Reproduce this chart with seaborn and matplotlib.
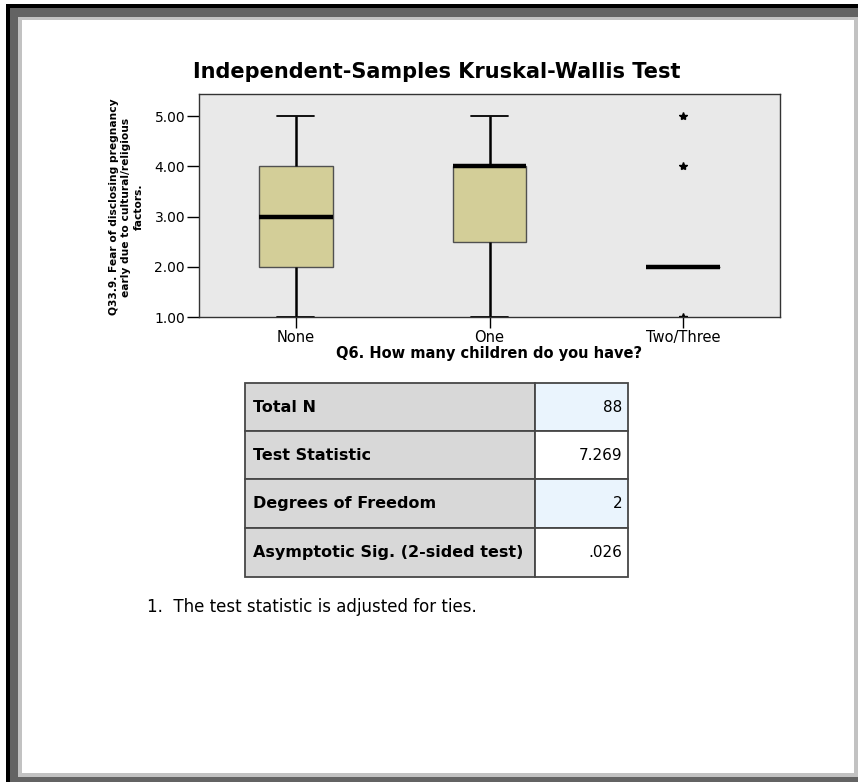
import numpy as np
import pandas as pd
import matplotlib
matplotlib.use("Agg")
import matplotlib.pyplot as plt
from matplotlib.patches import Rectangle
import seaborn as sns

# --- Dados ---
groups = ['None', 'One', 'Two/Three']
levels = [1, 2, 3, 4, 5]
# respostas 1..5 por grupo (quartis: None 2/3/4, One 2.5/4/4, Two/Three 2/2/2)
counts_none = [5, 10, 10, 11, 6]
counts_one = [4, 5, 4, 16, 6]
counts_two = [1, 8, 0, 1, 1]
y_ticks = [1.0, 2.0, 3.0, 4.0, 5.0]

table_labels = ['Total N', 'Test Statistic', 'Degrees of Freedom',
                'Asymptotic Sig. (2-sided test)']
table_values = ['88', '7.269', '2', '.026']

title = 'Independent-Samples Kruskal-Wallis Test'
x_label = 'Q6. How many children do you have?'
y_label = 'Q33.9. Fear of disclosing pregnancy\nearly due to cultural/religious\nfactors.'
footnote = '1.  The test statistic is adjusted for ties.'

# --- Cores ---
BOX_COLOR = '#d3ce98'
AX_BG = '#e9e9e9'
CELL_GRAY = '#d8d8d8'
CELL_BLUE = '#eaf4fd'
BORDER = '#474747'

rows = []
for g, cnt in zip(groups, [counts_none, counts_one, counts_two]):
    for lv, c in zip(levels, cnt):
        rows += [(g, lv)] * c
df = pd.DataFrame(rows, columns=['group', 'value'])

sns.set_theme(style='white')
plt.rcParams['font.family'] = ['DejaVu Sans']
plt.rcParams['text.color'] = 'black'
plt.rcParams['axes.labelcolor'] = 'black'
plt.rcParams['xtick.color'] = 'black'
plt.rcParams['ytick.color'] = 'black'

W, H = 858, 782
fig = plt.figure(figsize=(W / 100, H / 100), dpi=100)
fig.patch.set_facecolor('white')


def fx(x):
    return x / W


def fy(y):
    return 1 - y / H


def band(x0, y0, x1, y1, color):
    fig.patches.append(Rectangle((fx(x0), fy(y1)), fx(x1 - x0), (y1 - y0) / H,
                                 transform=fig.transFigure, facecolor=color,
                                 edgecolor='none', zorder=-10))


# moldura da janela
band(6, 4, 858, 782, 'black')
band(10, 8, 858, 782, '#636363')
band(18, 17, 858, 777, '#c2c2c2')
band(22, 20, 854, 773, 'white')

# --- Boxplot ---
ax = fig.add_axes([fx(199), fy(317), fx(780 - 199), (317 - 94) / H])
sns.boxplot(data=df, x='group', y='value', order=groups, ax=ax,
            width=0.38, color=BOX_COLOR, saturation=1, linecolor='black',
            linewidth=1.8, whis=1.5,
            boxprops=dict(edgecolor='#505050', linewidth=1.0),
            medianprops=dict(color='black', linewidth=3.2),
            capprops=dict(color='black', linewidth=1.3),
            flierprops=dict(marker='*', markersize=6, markerfacecolor='black',
                            markeredgecolor='black'))
ax.set_facecolor(AX_BG)
ax.set_xlim(-0.5, 2.5)
ax.set_ylim(1.0, 5.44)
ax.set_yticks(y_ticks)
ax.set_yticklabels([f'{v:.2f}' for v in y_ticks])
for s in ax.spines.values():
    s.set_color('#333333')
    s.set_linewidth(1.0)
ax.tick_params(axis='both', direction='out', length=9, width=1, color='black',
               labelsize=10, pad=1, labelcolor='black')
ax.tick_params(axis='x', length=8, pad=1, labelsize=10.5)
ax.tick_params(left=True, bottom=True)
ax.set_xlabel(x_label, fontsize=10.5, fontweight='bold', labelpad=1)
ax.set_ylabel('')

fig.text(fx(437), fy(72), title, ha='center', va='center', fontsize=15,
         fontweight='bold')
fig.text(fx(126), fy(207), y_label, rotation=90, ha='center', va='center',
         multialignment='center', fontsize=7.7, fontweight='bold',
         linespacing=1.3)

# --- Tabela ---
x_left, x_mid, x_right = 245, 535, 628
row_edges = [383, 431, 479, 528, 577]
for i, (lab, val) in enumerate(zip(table_labels, table_values)):
    y0, y1 = row_edges[i], row_edges[i + 1]
    band_col = CELL_BLUE if i % 2 == 0 else 'white'
    fig.patches.append(Rectangle((fx(x_left), fy(y1)), fx(x_mid - x_left),
                                 (y1 - y0) / H, transform=fig.transFigure,
                                 facecolor=CELL_GRAY, edgecolor=BORDER, lw=1.3))
    fig.patches.append(Rectangle((fx(x_mid), fy(y1)), fx(x_right - x_mid),
                                 (y1 - y0) / H, transform=fig.transFigure,
                                 facecolor=band_col, edgecolor=BORDER, lw=1.3))
    yc = (y0 + y1) / 2
    fig.text(fx(253), fy(yc), lab, ha='left', va='center', fontsize=11.5,
             fontweight='bold')
    fig.text(fx(622), fy(yc), val, ha='right', va='center', fontsize=11)

fig.text(fx(147), fy(607), footnote, ha='left', va='center', fontsize=12)

fig.savefig('out.png', dpi=100)
